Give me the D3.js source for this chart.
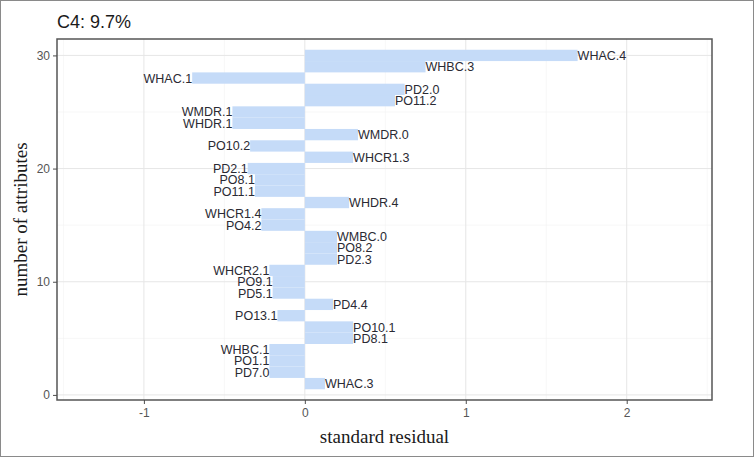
<!DOCTYPE html>
<html>
<head>
<meta charset="utf-8">
<script src="https://cdn.jsdelivr.net/npm/d3@7"></script>
<style>
  body { margin: 0; background: #fff; }
  svg { display: block; }
</style>
</head>
<body>
<div id="chart"></div>
<script>
// attribute labels, bottom (1) to top (30)
var attributes = ["WHAC.3", "PD7.0", "PO1.1", "WHBC.1", "PD8.1", "PO10.1", "PO13.1", "PD4.4",
    "PD5.1", "PO9.1", "WHCR2.1", "PD2.3", "PO8.2", "WMBC.0", "PO4.2", "WHCR1.4", "WHDR.4",
    "PO11.1", "PO8.1", "PD2.1", "WHCR1.3", "PO10.2", "WMDR.0", "WHDR.1", "WMDR.1",
    "PO11.2", "PD2.0", "WHAC.1", "WHBC.3", "WHAC.4"];
// standard residual of each attribute (same order)
var residuals = [0.125, -0.22, -0.22, -0.22, 0.30, 0.30, -0.17, 0.175,
    -0.20, -0.20, -0.22, 0.20, 0.20, 0.20, -0.27, -0.27, 0.275,
    -0.31, -0.31, -0.355, 0.30, -0.34, 0.33, -0.45, -0.45,
    0.56, 0.62, -0.70, 0.75, 1.695];
var xTicks = [-1, 0, 1, 2];
var xMinor = [-1.5, -0.5, 0.5, 1.5, 2.5];
var yTicks = [0, 10, 20, 30];
var yMinor = [5, 15, 25];

var width = 754, height = 457;
var pLeft = 57, pRight = 712, pTop = 39, pBottom = 400;

var data = attributes.map(function(a, i) { return {label: a, rank: i + 1, value: residuals[i]}; });

var svg = d3.select("#chart").append("svg")
    .attr("width", width)
    .attr("height", height);

svg.append("rect")
    .attr("x", 0.5).attr("y", 0.5)
    .attr("width", width - 1).attr("height", height - 1)
    .attr("fill", "#fff").attr("stroke", "#8a8a8a");

var x = d3.scaleLinear().domain([-1.54, 2.53]).range([pLeft, pRight]);
var y = d3.scaleLinear().domain([-0.45, 31.45]).range([pBottom, pTop]);

// grid
var grid = svg.append("g");
grid.selectAll(".xminor").data(xMinor).enter().append("line")
    .attr("x1", x).attr("x2", x).attr("y1", pTop).attr("y2", pBottom)
    .attr("stroke", "#f2f2f2").attr("stroke-width", 0.6);
grid.selectAll(".yminor").data(yMinor).enter().append("line")
    .attr("x1", pLeft).attr("x2", pRight).attr("y1", y).attr("y2", y)
    .attr("stroke", "#f2f2f2").attr("stroke-width", 0.6);
grid.selectAll(".xmajor").data(xTicks).enter().append("line")
    .attr("x1", x).attr("x2", x).attr("y1", pTop).attr("y2", pBottom)
    .attr("stroke", "#e6e6e6").attr("stroke-width", 1);
grid.selectAll(".ymajor").data(yTicks).enter().append("line")
    .attr("x1", pLeft).attr("x2", pRight).attr("y1", y).attr("y2", y)
    .attr("stroke", "#e6e6e6").attr("stroke-width", 1);

// bars
var bh = y(0) - y(1);
svg.append("g").selectAll("rect").data(data).enter().append("rect")
    .attr("x", function(d) { return x(Math.min(0, d.value)); })
    .attr("width", function(d) { return Math.abs(x(d.value) - x(0)); })
    .attr("y", function(d) { return y(d.rank) - bh / 2; })
    .attr("height", bh)
    .attr("fill", "#c5dbf8");

// labels
svg.append("g").selectAll("text").data(data).enter().append("text")
    .attr("x", function(d) { return x(d.value); })
    .attr("y", function(d) { return y(d.rank); })
    .attr("dy", "0.36em")
    .attr("text-anchor", function(d) { return d.value > 0 ? "start" : "end"; })
    .style("font-family", "Liberation Sans, Arial, sans-serif")
    .style("font-size", "12.5px")
    .attr("fill", "#2a2a33")
    .text(function(d) { return d.label; });

// panel border
svg.append("rect")
    .attr("x", pLeft).attr("y", pTop)
    .attr("width", pRight - pLeft).attr("height", pBottom - pTop)
    .attr("fill", "none").attr("stroke", "#555").attr("stroke-width", 1.5);

// axes
var fmt = function(d) { return String(d); };
var xAxis = svg.append("g")
    .attr("transform", "translate(0," + pBottom + ")")
    .call(d3.axisBottom(x).tickValues(xTicks).tickFormat(fmt).tickSize(4).tickPadding(4));
var yAxis = svg.append("g")
    .attr("transform", "translate(" + pLeft + ",0)")
    .call(d3.axisLeft(y).tickValues(yTicks).tickFormat(fmt).tickSize(4).tickPadding(3));
[xAxis, yAxis].forEach(function(a) {
    a.select(".domain").remove();
    a.selectAll(".tick line").attr("stroke", "#4d4d4d");
    a.selectAll(".tick text")
        .attr("fill", "#555")
        .style("font-family", "Liberation Sans, Arial, sans-serif")
        .style("font-size", "12px");
});

// titles
svg.append("text")
    .attr("x", pLeft)
    .attr("y", 28)
    .style("font-family", "Liberation Sans, Arial, sans-serif")
    .style("font-size", "18px")
    .attr("fill", "#1a1a1a")
    .text("C4: 9.7%");

svg.append("text")
    .attr("x", (pLeft + pRight) / 2)
    .attr("y", 443)
    .attr("text-anchor", "middle")
    .style("font-family", "Liberation Serif, Times New Roman, serif")
    .style("font-size", "19px")
    .attr("fill", "#1a1a1a")
    .text("standard residual");

svg.append("text")
    .attr("transform", "translate(27," + (pTop + pBottom) / 2 + ") rotate(-90)")
    .attr("text-anchor", "middle")
    .style("font-family", "Liberation Serif, Times New Roman, serif")
    .style("font-size", "19px")
    .attr("fill", "#1a1a1a")
    .text("number of attributes");
</script>
</body>
</html>
